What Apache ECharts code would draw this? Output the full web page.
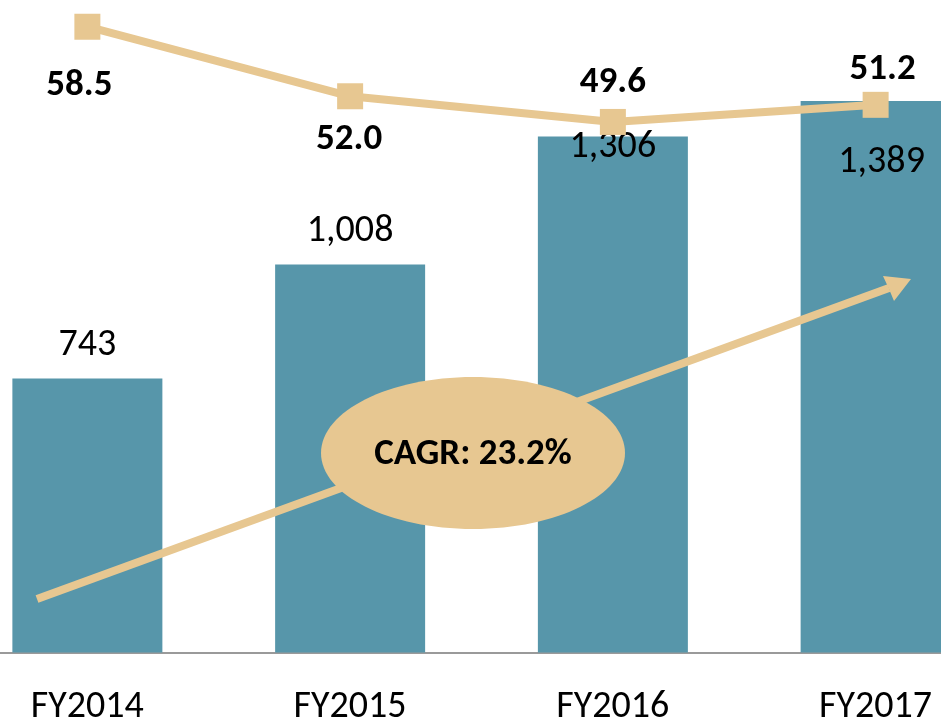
<!DOCTYPE html>
<html>
<head>
<meta charset="utf-8">
<style>
  html, body { margin: 0; padding: 0; background: #fff; overflow: hidden; }
  /* 图表比窗口宽，左右两边被裁掉一部分 */
  #main { position: absolute; left: -44px; top: 0; width: 1051px; height: 719px; }
</style>
<script src="https://cdn.jsdelivr.net/npm/echarts@6/dist/echarts.min.js"></script>
</head>
<body>
<div id="main"></div>
<script>
// 数据
var years = ['FY2014', 'FY2015', 'FY2016', 'FY2017'];
var revenue = [743, 1008, 1306, 1389];
var margin = [58.5, 52.0, 49.6, 51.2];
var cagrText = 'CAGR: 23.2%';

// 标签偏移 (px)
var barLabelOffset = [[0, -33], [0, -33], [0, 11], [6, 62]];
var lineLabelOffset = [[-8, 59], [-1, 43], [0, -39], [7, -35]];

var FONT = 'Carlito, Lato, sans-serif';
var BLUE = '#5796aa';
var SAND = '#e7c791';
var DX = 44; // 容器左移量

var chart = echarts.init(document.getElementById('main'));

var option = {
  animation: false,
  backgroundColor: '#fff',
  grid: {
    left: 0,
    right: 0,
    top: 0,
    bottom: 66.5,
    containLabel: false,
    outerBoundsMode: 'none'
  },
  xAxis: {
    type: 'category',
    data: years,
    boundaryGap: true,
    axisLine: { lineStyle: { color: '#9a9a9a', width: 2 } },
    axisTick: { show: false },
    axisLabel: {
      color: '#000',
      fontFamily: FONT,
      fontSize: 38,
      margin: 36
    }
  },
  yAxis: [
    { type: 'value', min: 105, max: 1624, show: false, splitLine: { show: false } },
    { type: 'value', min: 0, max: 61, show: false, splitLine: { show: false } }
  ],
  series: [
    {
      type: 'bar',
      yAxisIndex: 0,
      barWidth: 150,
      itemStyle: { color: BLUE },
      data: revenue.map(function (v, i) {
        return {
          value: v,
          label: { offset: barLabelOffset[i] }
        };
      }),
      label: {
        show: true,
        position: ['50%', 0],
        align: 'center',
        verticalAlign: 'middle',
        color: '#000',
        fontFamily: FONT,
        fontSize: 38,
        formatter: function (p) {
          return p.value.toLocaleString('en-US');
        }
      }
    },
    {
      type: 'line',
      yAxisIndex: 1,
      symbol: 'rect',
      symbolSize: 26,
      lineStyle: { color: SAND, width: 8 },
      itemStyle: { color: SAND },
      z: 5,
      data: margin.map(function (v, i) {
        return {
          value: v,
          label: { offset: lineLabelOffset[i] }
        };
      }),
      label: {
        show: true,
        position: 'inside',
        color: '#000',
        fontFamily: FONT,
        fontWeight: 'bold',
        fontSize: 37,
        formatter: function (p) {
          return p.value.toFixed(1);
        }
      }
    }
  ],
  // CAGR 箭头和椭圆
  graphic: [
    {
      type: 'line',
      z: 100,
      shape: { x1: 37 + DX, y1: 599, x2: 889 + DX, y2: 288 },
      style: { stroke: SAND, lineWidth: 8 }
    },
    {
      type: 'polygon',
      z: 100,
      shape: { points: [[911 + DX, 279], [883 + DX, 276], [889 + DX, 289], [894 + DX, 301]] },
      style: { fill: SAND }
    },
    {
      type: 'ellipse',
      z: 101,
      shape: { cx: 473 + DX, cy: 453, rx: 152, ry: 76 },
      style: { fill: SAND }
    },
    {
      type: 'text',
      z: 102,
      x: 473 + DX,
      y: 455,
      style: {
        text: cagrText,
        fill: '#000',
        font: 'bold 37px ' + FONT,
        align: 'center',
        verticalAlign: 'middle'
      }
    }
  ]
};

chart.setOption(option);
</script>
</body>
</html>
